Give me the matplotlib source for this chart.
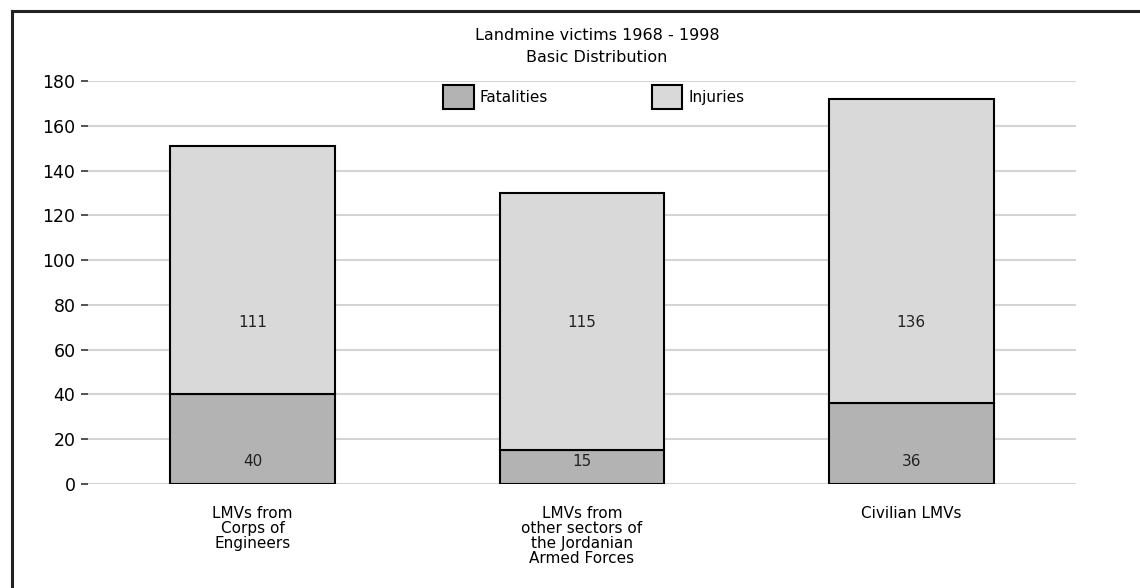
import matplotlib
matplotlib.use("Agg")
import matplotlib.pyplot as plt
from matplotlib.lines import Line2D
import numpy as np

categories = ["LMVs from\nCorps of\nEngineers",
              "LMVs from\nother sectors of\nthe Jordanian\nArmed Forces",
              "Civilian LMVs"]
fatalities = [40, 15, 36]
injuries = [111, 115, 136]
series_names = ["Fatalities", "Injuries"]
yticks = [0, 20, 40, 60, 80, 100, 120, 140, 160, 180]
title_lines = ["Landmine victims 1968 - 1998", "Basic Distribution"]

plt.rcParams['font.family'] = ['DejaVu Sans']
fig = plt.figure(figsize=(11.4, 5.88), dpi=100)
ax = fig.add_axes([88/1140, 1-484/588, (1076-88)/1140, (484-81)/588])

x = np.arange(len(categories))
c_fat = "#b3b3b3"
c_inj = "#d9d9d9"
b1 = ax.bar(x, fatalities, width=0.5, color=c_fat, edgecolor="black", linewidth=1.5,
            label=series_names[0], zorder=3)
b2 = ax.bar(x, injuries, width=0.5, bottom=fatalities, color=c_inj, edgecolor="black",
            linewidth=1.5, label=series_names[1], zorder=3)

for xi, f, i in zip(x, fatalities, injuries):
    ax.text(xi, 10, str(f), ha="center", va="center", fontsize=11, color="#222222", zorder=4)
    ax.text(xi, 72, str(i), ha="center", va="center", fontsize=11, color="#222222", zorder=4)

ax.set_xlim(-0.5, 2.5)
ax.set_ylim(0, 180)
ax.set_yticks(yticks)
ax.set_yticklabels([str(t) for t in yticks], fontsize=12.5)
ax.set_xticks(x)
ax.set_xticklabels(categories, fontsize=11, linespacing=1.0, va="top")
ax.tick_params(axis="x", length=0, pad=16)
ax.tick_params(axis="y", length=5, width=1.2, color="#333333", pad=4)
for s in ax.spines.values():
    s.set_visible(False)
ax.yaxis.grid(True, color="#d4d4d4", linewidth=1.5, zorder=0)
ax.set_axisbelow(True)

leg = ax.legend(loc="upper center", bbox_to_anchor=(0.512, 1.025), ncol=2, frameon=False,
                fontsize=11, handlelength=2.0, handleheight=2.1, columnspacing=6.8,
                handletextpad=0.4)

fig.text(597/1140, 1-35/588, title_lines[0], ha="center", va="center", fontsize=11.5)
fig.text(597/1140, 1-57/588, title_lines[1], ha="center", va="center", fontsize=11.5)

# outer frame (cropped on the right and bottom)
fig.add_artist(Line2D([12/1140, 12/1140], [0, 1-11/588], transform=fig.transFigure,
                      color="#222222", linewidth=2.2))
fig.add_artist(Line2D([12/1140, 1], [1-11/588, 1-11/588], transform=fig.transFigure,
                      color="#222222", linewidth=2.2))

fig.savefig("out.png", dpi=100)
